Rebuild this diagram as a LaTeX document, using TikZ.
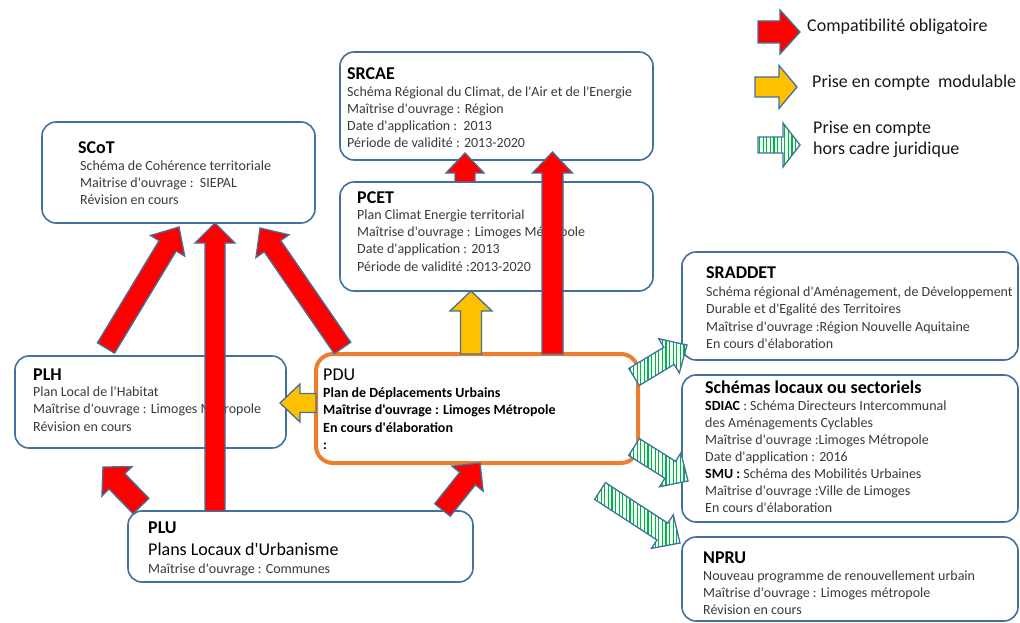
\documentclass[tikz,border=0pt]{standalone}
\usepackage{fontspec}
\setmainfont{Carlito}[Ligatures=TeXOff]
\usetikzlibrary{calc,patterns.meta}
\definecolor{boxblue}{HTML}{41719C}
\definecolor{arrline}{HTML}{41719C}
\definecolor{pduorange}{HTML}{ED7D31}
\definecolor{redarr}{HTML}{FF0000}
\definecolor{yelarr}{HTML}{FFC000}
\definecolor{grnarr}{HTML}{00B050}
\definecolor{bodygray}{HTML}{3A3A3A}
\newcommand\blockarrow[6]{%
  \coordinate (bah) at ($(#3)!#6!(#2)$);
  \draw[#1] ($(#2)!#4!90:(#3)$) -- ($(bah)!#4!-90:(#2)$) -- ($(bah)!#5!-90:(#2)$) -- (#3)
     -- ($(bah)!#5!90:(#2)$) -- ($(bah)!#4!90:(#2)$) -- ($(#2)!#4!-90:(#3)$) -- cycle;}
\tikzset{
  box/.style={draw=boxblue, line width=1.6pt, rounded corners=14pt, fill=white, anchor=north west, inner sep=0pt, outer sep=0pt},
  pdubox/.style={box, draw=pduorange, line width=4pt, rounded corners=17pt},
  ttl/.style={anchor=base west, inner sep=0pt, font=\fontsize{18}{21}\selectfont\bfseries},
  body/.style={anchor=north west, inner sep=0pt, align=left, text=bodygray, font=\fontsize{14}{17.1}\selectfont},
  legtxt/.style={anchor=base west, inner sep=0pt, font=\fontsize{18}{21}\selectfont, text=black!90, align=left},
  redA/.style={fill=redarr, draw=arrline, line width=1.3pt},
  yelA/.style={fill=yelarr, draw=arrline, line width=1.3pt},
  grnA/.style={preaction={fill=green!6}, pattern={Lines[angle=90,distance=3.6pt,line width=1.3pt]}, pattern color=grnarr, draw=arrline, line width=1.3pt},
}
\begin{document}
\begin{tikzpicture}[x=1pt,y=-1pt]
\useasboundingbox (0,0) rectangle (1020,623);
\fill[white] (0,0) rectangle (1020,623);
% boxes
\node[box, minimum width=313pt, minimum height=108pt] (srcae) at (340,52) {};
\node[box, minimum width=313pt, minimum height=109pt] (pcet) at (340,182) {};
\node[box, minimum width=273pt, minimum height=101pt] (scot) at (42,122) {};
\node[box, minimum width=271pt, minimum height=92pt] (plh) at (15,356) {};
\node[pdubox, minimum width=322pt, minimum height=109pt] (pdu) at (316,354) {};
\node[box, minimum width=345pt, minimum height=71pt] (plu) at (128,511) {};
\node[box, minimum width=336pt, minimum height=108pt] (sraddet) at (682,252) {};
\node[box, minimum width=336pt, minimum height=147pt] (schemas) at (682,375) {};
\node[box, minimum width=336pt, minimum height=84pt] (npru) at (682,537) {};
% texts
\node[ttl] (srcaeT) at (347,80) {SRCAE};
\node[body] (srcaeB) at (347,83.5) {\rule{0pt}{13pt}Schéma Régional du Climat, de l'Air et de l'Energie\\Maîtrise d'ouvrage : Région\\Date d'application :\ \ 2013\\Période de validité : 2013-2020};
\node[ttl] (pcetT) at (357,203.3) {PCET};
\node[body] (pcetB) at (357,206.5) {\rule{0pt}{13pt}Plan Climat Energie territorial\\Maîtrise d'ouvrage : Limoges Métropole\\Date d'application : 2013\\Période de validité :2013-2020};
\node[ttl] (scotT) at (78,153.5) {SCoT};
\node[body] (scotB) at (80,157) {\rule{0pt}{13pt}Schéma de Cohérence territoriale\\Maitrise d'ouvrage :\ \ SIEPAL\\Révision en cours};
\node[ttl] (plhT) at (33,380) {PLH};
\node[body] (plhB) at (33,383.6) {\rule{0pt}{13pt}Plan Local de l'Habitat\\Maîtrise d'ouvrage : Limoges Métropole\\Révision en cours};
\node[ttl, font=\fontsize{18}{21}\selectfont] (pduT) at (323,380) {PDU};
\node[body, text=black, font=\fontsize{14}{17.1}\selectfont\bfseries] (pduB) at (323,384.6) {\rule{0pt}{13pt}Plan de Déplacements Urbains\\Maîtrise d'ouvrage : Limoges Métropole\\En cours d'élaboration\\:};
\node[ttl] (pluT) at (148,533) {PLU};
\node[anchor=base west, inner sep=0pt, font=\fontsize{18}{21}\selectfont] (pluA) at (148,555) {Plans Locaux d'Urbanisme};
\node[anchor=base west, inner sep=0pt, text=bodygray, font=\fontsize{14}{17}\selectfont] (pluB) at (148,573) {Maîtrise d'ouvrage : Communes};
\node[ttl] (sraddetT) at (706,278) {SRADDET};
\node[body] (sraddetB) at (706,283.6) {\rule{0pt}{13pt}Schéma régional d'Aménagement, de Développement\\Durable et d'Egalité des Territoires\\Maîtrise d'ouvrage :Région Nouvelle Aquitaine\\En cours d'élaboration};
\node[ttl] (schemasT) at (705,393) {Schémas locaux ou sectoriels};
\node[body] (schemasB) at (705,397) {\rule{0pt}{13pt}\textbf{\color{black}SDIAC} : Schéma Directeurs Intercommunal\\des Aménagements Cyclables\\Maîtrise d'ouvrage :Limoges Métropole\\Date d'application : 2016\\\textbf{\color{black}SMU :} Schéma des Mobilités Urbaines\\Maîtrise d'ouvrage :Ville de Limoges\\En cours d'élaboration};
\node[ttl] (npruT) at (703,563) {NPRU};
\node[body] (npruB) at (703,567) {\rule{0pt}{13pt}Nouveau programme de renouvellement urbain\\Maîtrise d'ouvrage : Limoges métropole\\Révision en cours};
% legend
\node[legtxt] (leg1) at (807,31.5) {Compatibilité obligatoire};
\node[legtxt] (leg2) at (812,87.5) {Prise en compte\ \ modulable};
\node[legtxt] (leg3) at (813,133.5) {Prise en compte};
\node[legtxt] (leg3b) at (813,154.5) {hors cadre juridique};
\coordinate (l1s) at (758,32); \coordinate (l1e) at (800,32);
\coordinate (l2s) at (755,87); \coordinate (l2e) at (797,87);
\coordinate (l3s) at (758,145); \coordinate (l3e) at (800,145);
\blockarrow{redA}{l1s}{l1e}{11pt}{22pt}{20pt}
\blockarrow{yelA}{l2s}{l2e}{10pt}{21.5pt}{18pt}
\blockarrow{grnA}{l3s}{l3e}{8pt}{22pt}{17pt}
% connector end points
\coordinate (r1s) at ($(pcet.north west)+(125,0)$);
\coordinate (r1e) at ($(srcae.south west)+(125,-7)$);
\coordinate (r2s) at ($(pdu.north west)+(236.5,0)$);
\coordinate (r2e) at ($(srcae.south west)+(212.5,-8)$);
\coordinate (r3s) at ($(plh.north west)+(91,-8)$);
\coordinate (r3e) at ($(scot.south west)+(137,4)$);
\coordinate (r4s) at ($(plu.north west)+(87,0)$);
\coordinate (r4e) at ($(scot.south west)+(173,0)$);
\coordinate (r5s) at ($(pdu.north west)+(26.5,-6)$);
\coordinate (r5e) at ($(scot.south west)+(218,5)$);
\coordinate (r6s) at ($(plu.north west)+(13,-5)$);
\coordinate (r6e) at ($(plh.south west)+(88,19)$);
\coordinate (r7s) at ($(plu.north west)+(314.5,-1)$);
\coordinate (r7e) at ($(pdu.south west)+(164,0)$);
\coordinate (y1s) at ($(pdu.north west)+(155,0)$);
\coordinate (y1e) at ($(pcet.south west)+(131,0)$);
\coordinate (y2s) at ($(pdu.north west)+(0,49)$);
\coordinate (y2e) at ($(plh.north east)+(-6,47)$);
\coordinate (g1s) at ($(pdu.north east)+(-4,23)$);
\coordinate (g1e) at ($(sraddet.south west)+(5,-15)$);
\coordinate (g2s) at ($(pdu.north east)+(-4,93)$);
\coordinate (g2e) at ($(schemas.north west)+(6,106)$);
\coordinate (g3s) at (600,491);
\coordinate (g3e) at ($(npru.north west)+(-2,6)$);
% arrows
\blockarrow{redA}{r1s}{r1e}{10pt}{19pt}{20pt}
\blockarrow{redA}{r2s}{r2e}{10.5pt}{20pt}{21pt}
\blockarrow{redA}{r3s}{r3e}{10pt}{20pt}{22pt}
\blockarrow{redA}{r4s}{r4e}{10pt}{20pt}{20pt}
\blockarrow{redA}{r5s}{r5e}{10pt}{20pt}{22pt}
\blockarrow{redA}{r6s}{r6e}{11pt}{21pt}{20pt}
\blockarrow{redA}{r7s}{r7e}{10pt}{20pt}{20pt}
\blockarrow{yelA}{y1s}{y1e}{10.5pt}{21pt}{20pt}
\blockarrow{yelA}{y2s}{y2e}{9.5pt}{19pt}{20pt}
\blockarrow{grnA}{g1s}{g1e}{10pt}{20pt}{21pt}
\blockarrow{grnA}{g2s}{g2e}{10pt}{20pt}{21pt}
\blockarrow{grnA}{g3s}{g3e}{10pt}{20pt}{21pt}
\end{tikzpicture}
\end{document}
